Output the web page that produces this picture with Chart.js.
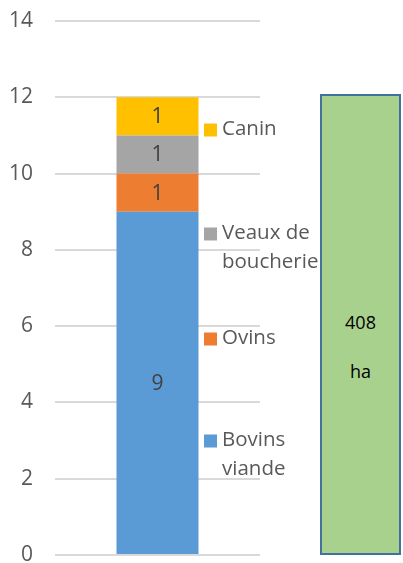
<!DOCTYPE html>
<html>
<head>
<meta charset="utf-8">
<script src="https://cdn.jsdelivr.net/npm/chart.js@4/dist/chart.umd.min.js"></script>
<style>
  html, body { margin: 0; padding: 0; background: #fff; }
  #wrap { position: relative; width: 403px; height: 563px; overflow: hidden; }
  #surface { position: absolute; left: 0; top: 0; }
  #box {
    position: absolute; left: 320px; top: 94px; width: 77px; height: 457px;
    background: #A9D18E; border: 2px solid #41719C;
    font-family: "Open Sans", sans-serif; font-size: 18px; line-height: 24px; color: #000;
    text-align: center;
  }
  #box div { position: absolute; left: 0; right: 0; }
</style>
</head>
<body>
<div id="wrap">
  <canvas id="surface" width="403" height="563"></canvas>
  <div id="box"><div id="boxValue" style="top:214px"></div><div id="boxUnit" style="top:263px"></div></div>
</div>
<script>
// Herd composition (stacked, bottom to top)
const categories = ['Cheptel'];
const seriesNames = ['Bovins viande', 'Ovins', 'Veaux de boucherie', 'Canin'];
const bovinsViande = [9];
const ovins = [1];
const veauxBoucherie = [1];
const canin = [1];
const yTicks = [0, 2, 4, 6, 8, 10, 12, 14];
const surface = { value: '408', unit: 'ha' };

const colors = ['#5B9BD5', '#ED7D31', '#A5A5A5', '#FFC000'];
const values = [bovinsViande, ovins, veauxBoucherie, canin];

document.getElementById('boxValue').textContent = surface.value;
document.getElementById('boxUnit').textContent = surface.unit;

const FONT = '"Open Sans", sans-serif';

// Value labels centred in each stacked segment
const segmentLabels = {
  id: 'segmentLabels',
  afterDatasetsDraw(chart) {
    const ctx = chart.ctx;
    ctx.save();
    ctx.font = '21px ' + FONT;
    ctx.fillStyle = '#404040';
    ctx.textAlign = 'center';
    ctx.textBaseline = 'middle';
    chart.data.datasets.forEach((ds, i) => {
      chart.getDatasetMeta(i).data.forEach((bar, j) => {
        const c = bar.getCenterPoint();
        ctx.fillText(String(ds.data[j]), c.x, c.y + 1);
      });
    });
    ctx.restore();
  }
};

// Legend to the right of the bar, top item = top segment
const sideLegend = {
  id: 'sideLegend',
  afterDraw(chart) {
    const ctx = chart.ctx;
    const rowTops = [115, 219, 324, 426];
    const lineH = 29;
    const x = 204, textX = 222, maxW = 100;
    ctx.save();
    ctx.font = '20.5px ' + FONT;
    ctx.textBaseline = 'middle';
    ctx.textAlign = 'left';
    const items = chart.data.datasets.map((d, i) => i).reverse();
    items.forEach((dsIndex, k) => {
      const ds = chart.data.datasets[dsIndex];
      const words = ds.label.split(' ');
      const lines = [];
      let cur = '';
      words.forEach(w => {
        const test = cur ? cur + ' ' + w : w;
        if (cur && ctx.measureText(test).width > maxW) { lines.push(cur); cur = w; }
        else cur = test;
      });
      if (cur) lines.push(cur);
      const top = rowTops[k];
      ctx.fillStyle = ds.backgroundColor;
      ctx.fillRect(x, top + lineH / 2 - 6, 13, 13);
      ctx.fillStyle = '#595959';
      lines.forEach((ln, li) => ctx.fillText(ln, textX, top + lineH / 2 + li * lineH));
    });
    ctx.restore();
  }
};

new Chart(document.getElementById('surface'), {
  type: 'bar',
  data: {
    labels: categories,
    datasets: seriesNames.map((name, i) => ({
      label: name,
      data: values[i],
      backgroundColor: colors[i],
      borderWidth: 0,
      barPercentage: 0.4,
      categoryPercentage: 1
    }))
  },
  options: {
    responsive: false,
    animation: false,
    devicePixelRatio: 1,
    layout: { padding: { top: 21, right: 143, bottom: 8, left: 0 } },
    plugins: { legend: { display: false }, tooltip: { enabled: false } },
    scales: {
      x: { stacked: true, display: false },
      y: {
        stacked: true,
        min: 0, max: 14,
        afterBuildTicks(scale) { scale.ticks = yTicks.map(v => ({ value: v })); },
        afterFit(scale) { scale.width = 55; scale.paddingTop = 0; scale.paddingBottom = 0; },
        border: { display: false },
        grid: { color: '#D9D9D9', lineWidth: 2, drawTicks: false, tickLength: 0 },
        ticks: { color: '#595959', font: { family: FONT, size: 21 }, padding: 22 }
      }
    }
  },
  plugins: [segmentLabels, sideLegend]
});
</script>
</body>
</html>
